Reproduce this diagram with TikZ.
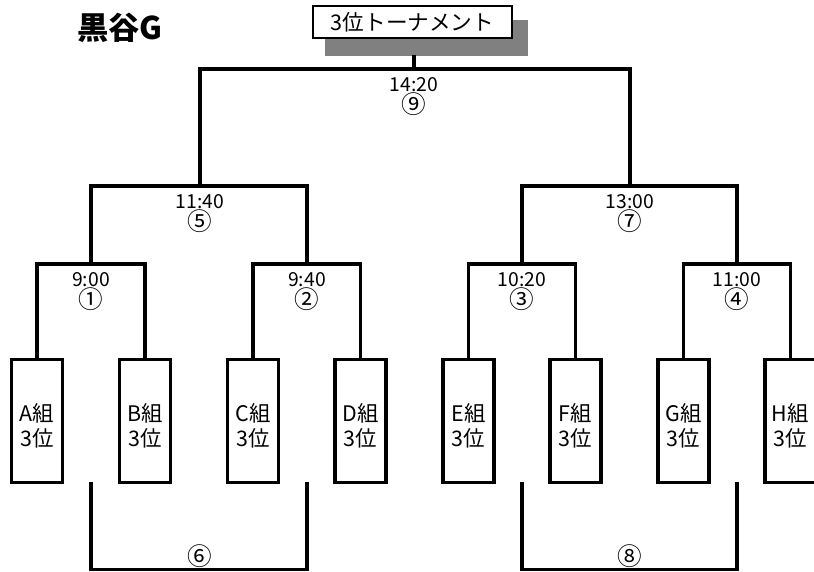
\documentclass[tikz,border=0pt]{standalone}
\usepackage{fontspec}
\setmainfont{Noto Sans CJK JP}
\definecolor{shadowgray}{RGB}{128, 128, 128}
\usetikzlibrary{positioning, calc}
\newcommand\circfont{\fontsize{14}{15}\selectfont}
\tikzset{
    team/.style={
        rectangle, draw=black, line width=0.065cm,
        minimum width=1.02cm, minimum height=2.46cm, inner sep=0pt,
        font=\fontsize{12.2}{14.2}\selectfont, align=center, text height=30pt
    },
    titlebox/.style={
        rectangle, draw=black, fill=white, line width=0.04cm,
        minimum width=3.98cm, minimum height=0.64cm, inner sep=0pt,
        font=\fontsize{12.3}{13}\selectfont
    },
    shadowbox/.style={
        rectangle, fill=shadowgray, draw=none,
        minimum width=4.06cm, minimum height=0.72cm, inner sep=0pt
    },
    bracket/.style={line width=0.065cm, line cap=rect, line join=miter},
    timelbl/.style={font=\fontsize{11}{12.5}\selectfont, align=center, inner sep=0pt},
    heading/.style={font=\fontsize{17.8}{20}\selectfont\bfseries}
}
\begin{document}
\begin{tikzpicture}[x=0.02cm, y=-0.02cm]
    \useasboundingbox (0,0) rectangle (814,571);

    % Heading
    \node[heading] (ground) at (120,28) {黒谷G};

    % Teams
    \node[team] (tA) at (37,421) {A組\\3位};
    \node[team] (tB) at (145,421) {B組\\3位};
    \node[team] (tC) at (253,421) {C組\\3位};
    \node[team] (tD) at (360.5,421) {D組\\3位};
    \node[team] (tE) at (468.5,421) {E組\\3位};
    \node[team] (tF) at (575.5,421) {F組\\3位};
    \node[team] (tG) at (683.5,421) {G組\\3位};
    \node[team] (tH) at (790.5,421) {H組\\3位};

    % Match points
    \coordinate (m1) at (91,264);
    \coordinate (m2) at (307,264);
    \coordinate (m3) at (522,264);
    \coordinate (m4) at (737,264);
    \coordinate (m5) at (200,186);
    \coordinate (m7) at (630,186);
    \coordinate (m9) at (414,69);
    \coordinate (m6) at (200,569.5);
    \coordinate (m8) at (630,569.5);

    % First round
    \draw[bracket] (tA.north) |- (m1) -| (tB.north);
    \draw[bracket] (tC.north) |- (m2) -| (tD.north);
    \draw[bracket] (tE.north) |- (m3) -| (tF.north);
    \draw[bracket] (tG.north) |- (m4) -| (tH.north);

    % Second round
    \draw[bracket] (m1) |- (m5) -| (m2);
    \draw[bracket] (m3) |- (m7) -| (m4);

    % Losers' matches
    \draw[bracket] (m1 |- tA.south) |- (m6) -| (m2 |- tD.south);
    \draw[bracket] (m3 |- tE.south) |- (m8) -| (m4 |- tH.south);

    % Title and final
    \node[shadowbox] (sh) at (426.5,38) {};
    \draw[bracket] (m5) |- (m9) -| (m7);
    \draw[bracket] (m9) -- (m9 |- sh.south);
    \node[titlebox] (title) at (412.5,22) {3位トーナメント};

    % Times and match numbers
    \node[timelbl] at ($(m1)+(0,28)$) {9:00\\\circfont ①};
    \node[timelbl] at ($(m2)+(0,28)$) {9:40\\\circfont ②};
    \node[timelbl] at ($(m3)+(0,28)$) {10:20\\\circfont ③};
    \node[timelbl] at ($(m4)+(0,28)$) {11:00\\\circfont ④};
    \node[timelbl] at ($(m5)+(0,28)$) {11:40\\\circfont ⑤};
    \node[timelbl] at ($(m7)+(0,28)$) {13:00\\\circfont ⑦};
    \node[timelbl] at ($(m9)+(0,28)$) {14:20\\\circfont ⑨};
    \node[timelbl, font=\circfont] at ($(m6)+(0,-13)$) {⑥};
    \node[timelbl, font=\circfont] at ($(m8)+(0,-13)$) {⑧};

\end{tikzpicture}
\end{document}
